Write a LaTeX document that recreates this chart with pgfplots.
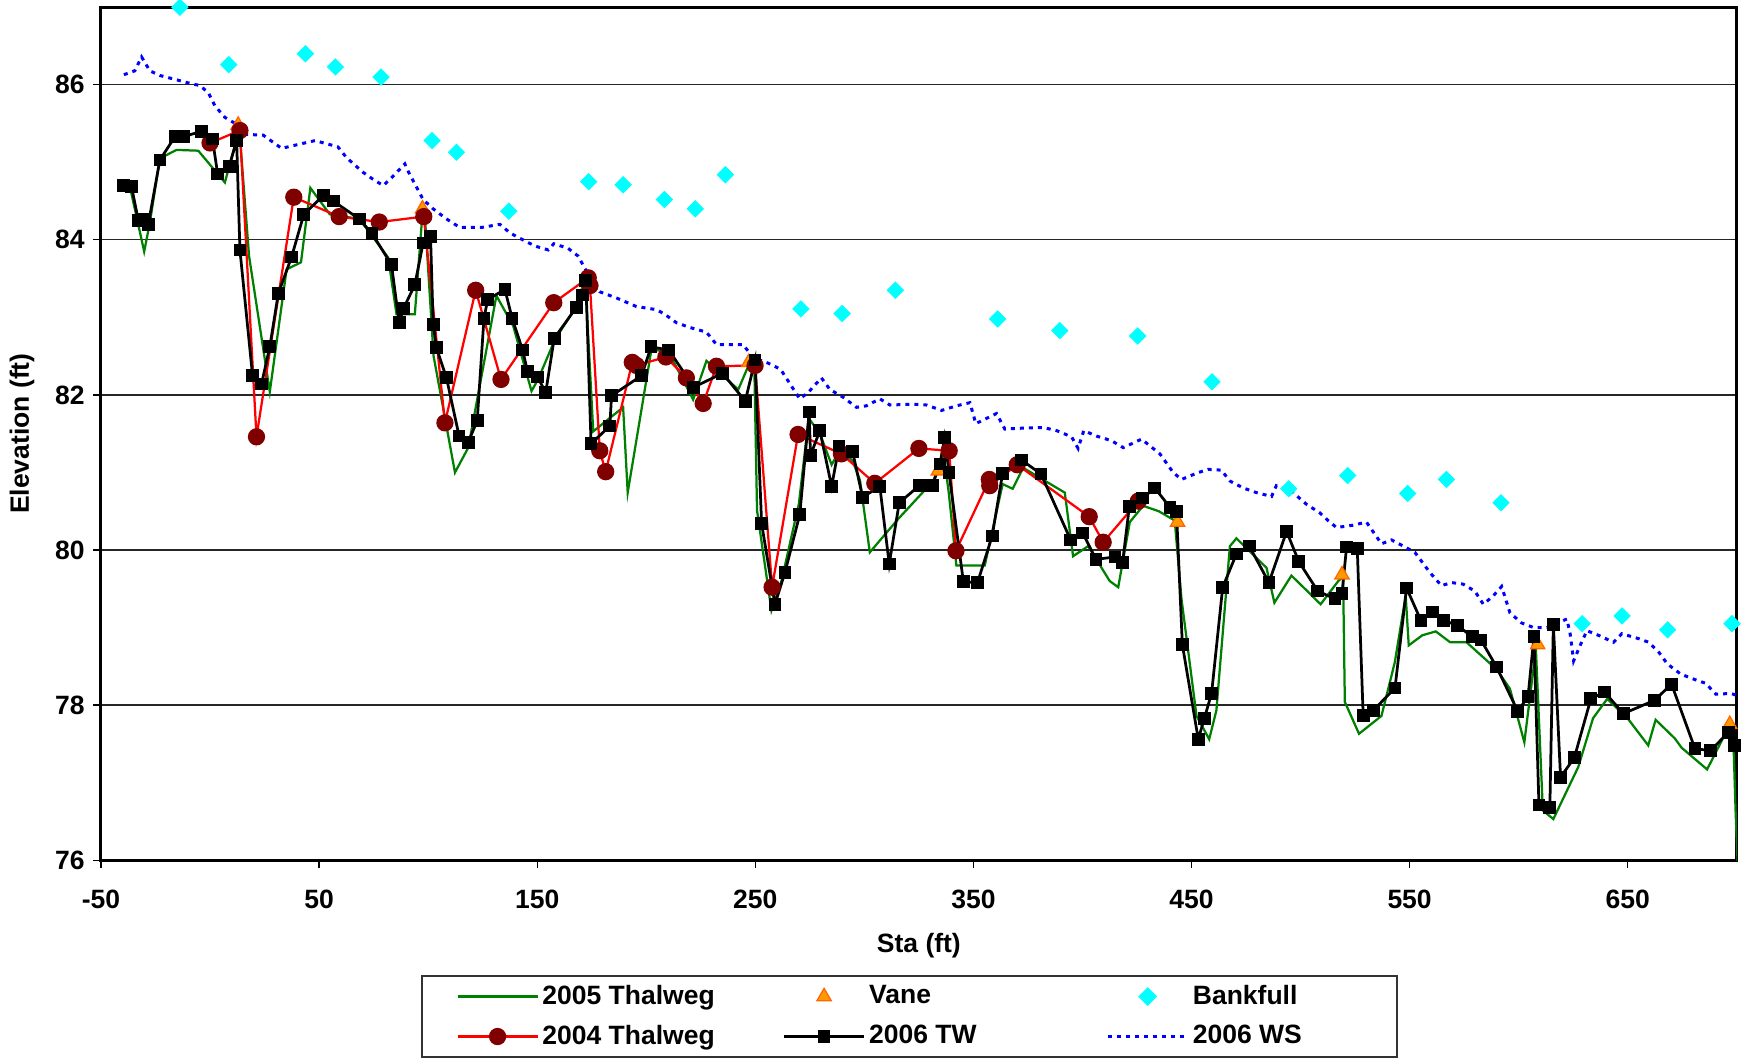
\documentclass[border=0pt]{standalone}
\usepackage{fontspec}
\setmainfont{Liberation Sans}
\usepackage{pgfplots}
\pgfplotsset{compat=1.18}
\definecolor{cGreen}{RGB}{0,128,0}
\definecolor{cRed}{RGB}{255,0,0}
\definecolor{cMaroon}{RGB}{128,0,0}
\definecolor{cOrange}{RGB}{255,153,0}
\definecolor{cOrangeD}{RGB}{255,102,0}
\definecolor{cCyan}{RGB}{0,255,255}
\definecolor{cBlue}{RGB}{0,0,255}
\newcommand{\ff}{\fontsize{10.6}{12.7}\selectfont\bfseries}
\pgfplotsset{my legend/.style={legend image code/.code={\draw[mark repeat=2,mark phase=2,##1] plot coordinates {(0pt,0pt) (16pt,0pt) (32pt,0pt)};}}}
\begin{document}
\begin{tikzpicture}
\begin{axis}[
  scale only axis, width=654.4pt, height=341.2pt,
  xmin=-50, xmax=700, ymin=76, ymax=87,
  xtick={-50,50,150,250,350,450,550,650},
  xticklabels={-50,50,150,250,350,450,550,650},
  ytick={76,78,80,82,84,86},
  yticklabels={76,78,80,82,84,86},
  ymajorgrids, major grid style={black!85, line width=0.5pt},
  tick align=outside, major tick length=3pt, tick pos=left,
  tick style={black, line width=0.5pt},
  axis line style={line width=1.2pt},
  ticklabel style={font=\ff},
  xticklabel style={yshift=-5.3pt},
  xlabel={Sta (ft)}, ylabel={Elevation (ft)},
  every axis x label/.style={at={(axis description cs:0.5,-0.1008)},anchor=center,font=\ff},
  every axis y label/.style={at={(axis description cs:-0.0483,0.5)},rotate=90,anchor=center,font=\ff},
  legend columns=3,
  legend cell align=left,
  legend style={at={(axis description cs:0.1956,-0.1342)}, anchor=north west, font=\ff,
    draw=black!80, line width=0.8pt, inner xsep=13.8pt, inner ysep=1.8pt,
    nodes={inner xsep=1.5pt, inner ysep=2pt}, row sep=2.8pt,
    /tikz/column 2/.style={column sep=25.7pt},
    /tikz/column 4/.style={column sep=50.3pt}},
  my legend,
]
% 2005 Thalweg
\addplot[cGreen, line width=0.9pt, mark=none] coordinates {
(-37,84.72) (-30.2,83.85) (-27.6,84.22) (-23.0,85.05) (-15.4,85.16) (-5.4,85.15) (6.8,84.74) (12.2,85.30) (13.5,85.40)
(17.9,83.79) (27.4,82.04) (35.1,83.62) (41.7,83.71) (46.0,84.67) (54.9,84.33) (68.4,84.27) (74.3,84.05) (81.7,83.77)
(85.5,83.04) (93.9,83.04) (97.2,84.27) (98.5,84.30) (102.5,82.5) (112.3,81.0) (118.4,81.32) (131.3,83.28) (139.0,82.89)
(147.4,82.05) (150.4,82.2) (157.9,82.7) (168,83.15) (172,83.5) (175.7,81.53) (189.4,81.84) (191.5,80.74) (202.4,82.59)
(210.3,82.55) (221.5,81.94) (227.6,82.44) (235,82.25) (242.2,82.07) (247.5,82.42) (249.5,82.45) (250.8,80.51)
(257.4,79.22) (262,79.6) (270,80.6) (274.5,81.7) (279.6,81.5) (285,81.1) (289,81.3) (294.6,81.15) (298,80.9)
(302.5,79.97) (315.5,80.4) (331.6,80.89) (334.7,81.11) (336.5,81.2) (338.7,80.74) (342.2,79.80) (355.2,79.80)
(363.4,80.85) (368.0,80.79) (372.8,81.06) (391.9,80.74) (395.7,79.92) (402.6,80.05) (412.5,79.60) (416.4,79.52)
(421.7,80.36) (427.8,80.57) (435,80.5) (442.3,80.38) (445.4,79.37) (452.3,77.86) (458.1,77.56) (461.4,77.93)
(467.6,80.05) (470.6,80.15) (484.4,79.77) (488.0,79.32) (495.8,79.67) (502,79.5) (509.2,79.30) (517.3,79.60)
(519.5,79.65) (520.3,78.04) (526.8,77.63) (537.1,77.86) (543.2,78.55) (548.2,79.41) (549.6,78.77) (555.8,78.90)
(562.0,78.95) (568.6,78.81) (576.1,78.81) (589.9,78.46) (596.0,78.21) (602.6,77.52) (607.9,78.72) (611.1,76.64)
(615.9,76.53) (627.3,77.20) (634.1,77.83) (640.6,78.08) (650.2,77.82) (659.4,77.48) (662.8,77.81) (671.6,77.57)
(674.7,77.45) (686.4,77.17) (693.8,77.58) (697.4,77.73) (698.5,77.5) (699.5,76.6) (700.5,75.9)};
\addlegendentry{2005 Thalweg}
% Vane
\addplot[only marks, mark=triangle*, mark size=3.3pt, mark options={fill=cOrange, draw=cOrangeD, line width=0.5pt}] coordinates {
(12.9,85.48) (97.4,84.40) (247,82.42) (333.9,81.02) (443.6,80.36) (519.0,79.68) (608.7,78.78) (696.8,77.75)};
\addlegendentry{Vane}
% Bankfull
\addplot[only marks, mark=square*, mark size=2.26pt, mark options={rotate=45, fill=cCyan, draw=cCyan}] coordinates {
(-13.8,87.0) (8.6,86.26) (43.7,86.40) (57.5,86.23) (78.4,86.10) (101.8,85.28) (113.0,85.13) (137.0,84.37) (173.6,84.75)
(189.4,84.71) (208.3,84.52) (222.5,84.40) (236.3,84.84) (270.9,83.11) (289.8,83.05) (314.2,83.35) (361.1,82.98)
(389.6,82.83) (425.3,82.76) (459.4,82.17) (494.6,80.79) (521.6,80.96) (549.1,80.73) (566.9,80.91) (591.9,80.61)
(629.1,79.05) (647.4,79.15) (668.3,78.97) (697.8,79.05)};
\addlegendentry{Bankfull}
% 2004 Thalweg
\addplot[cRed, line width=0.9pt, mark=*, mark size=3pt, mark options={fill=cMaroon, draw=cMaroon, solid}] coordinates {
(0,85.25) (13.7,85.41) (21.3,81.46) (38.4,84.55) (59.2,84.30) (77.6,84.23) (98.0,84.30) (107.7,81.64) (121.8,83.35)
(133.4,82.20) (157.6,83.19) (173.4,83.51) (174.2,83.41) (178.7,81.28) (181.4,81.01) (193.6,82.42) (195.5,82.38)
(209.0,82.49) (218.4,82.22) (226.1,81.89) (232.2,82.37) (249.9,82.38) (257.7,79.52) (269.6,81.49) (289.5,81.24)
(304.8,80.86) (325.0,81.31) (338.9,81.28) (342.0,79.99) (357.3,80.91) (357.5,80.83) (370.1,81.10) (403.1,80.43)
(409.5,80.10) (425.6,80.63)};
\addlegendentry{2004 Thalweg}
% 2006 TW
\addplot[black, line width=1.1pt, mark=square*, mark size=2pt, mark options={fill=black, solid}] coordinates {
(-39.8,84.70) (-36.0,84.69) (-32.9,84.25) (-29.9,84.27) (-28.3,84.20) (-23.0,85.03) (-16.1,85.33) (-12.3,85.33)
(-3.9,85.40) (1.1,85.30) (3.5,84.85) (8.8,84.95) (12.2,85.28) (13.7,83.87) (19.5,82.25) (23.6,82.14) (27.4,82.62)
(31.3,83.31) (37.4,83.78) (43.0,84.33) (51.9,84.57) (56.5,84.50) (68.4,84.27) (74.3,84.08) (83.2,83.68) (86.7,82.93)
(88.6,83.11) (93.9,83.42) (97.7,83.96) (101.1,84.04) (102.3,82.91) (103.8,82.61) (108.4,82.22) (114.2,81.47)
(118.4,81.39) (122.5,81.67) (125.6,82.99) (127.3,83.23) (135.2,83.36) (138.5,82.99) (143.3,82.58) (145.6,82.30)
(150.2,82.23) (153.9,82.03) (157.8,82.73) (168.0,83.13) (170.6,83.29) (172.3,83.48) (174.7,81.37) (183.3,81.60)
(184.1,81.99) (197.9,82.25) (202.2,82.62) (210.3,82.58) (221.8,82.10) (235.0,82.28) (245.4,81.92) (249.9,82.45)
(252.9,80.34) (259.0,79.30) (263.6,79.71) (270.4,80.46) (274.7,81.78) (275.3,81.22) (279.6,81.54) (285.0,80.82)
(288.4,81.34) (294.6,81.27) (299.2,80.68) (307.1,80.82) (311.4,79.82) (316.0,80.61) (325.2,80.83) (331.1,80.83)
(334.7,81.11) (336.8,81.45) (338.8,81.00) (345.4,79.59) (351.9,79.58) (358.6,80.18) (363.4,80.99) (372.1,81.16)
(381.0,80.98) (394.6,80.13) (400.1,80.22) (406.2,79.88) (414.9,79.91) (418.4,79.84) (421.5,80.56) (427.6,80.67)
(433.2,80.80) (440.1,80.55) (443.1,80.50) (445.8,78.78) (453.1,77.56) (455.9,77.83) (459.2,78.15) (464.3,79.52)
(470.6,79.95) (476.5,80.05) (485.5,79.58) (493.6,80.24) (499.2,79.85) (507.9,79.47) (515.8,79.37) (519.0,79.44)
(521.1,80.04) (526.0,80.02) (528.7,77.87) (533.3,77.93) (543.3,78.22) (548.6,79.51) (555.2,79.09) (560.4,79.20)
(565.7,79.09) (571.8,79.03) (578.7,78.88) (582.7,78.84) (589.9,78.49) (599.6,77.92) (604.3,78.11) (607.0,78.88)
(609.3,76.71) (614.3,76.68) (615.9,79.04) (619.2,77.07) (625.5,77.32) (633.1,78.08) (639.3,78.17) (648.0,77.89)
(662.2,78.06) (670.1,78.27) (680.8,77.44) (688.0,77.41) (696.1,77.65) (698.8,77.48) (700.5,77.3)};
\addlegendentry{2006 TW}
% 2006 WS
\addplot[cBlue, line width=1.2pt, dash pattern=on 1.6pt off 2pt, mark=none] coordinates {
(-39.5,86.13) (-34.5,86.18) (-31.4,86.36) (-27.6,86.18) (-23.0,86.12) (-16.1,86.07) (-10.8,86.03) (-4.7,85.99)
(-0.8,85.90) (2.2,85.73) (6.8,85.58) (12.2,85.49) (16.7,85.36) (24.4,85.35) (32.8,85.18) (40.4,85.23) (48.1,85.28)
(53.4,85.24) (58.6,85.20) (62.6,85.06) (70.2,84.87) (74.8,84.78) (79.4,84.70) (83.2,84.80) (89.3,84.98) (91.1,84.87)
(97.7,84.52) (102.3,84.40) (108.4,84.27) (114.5,84.16) (124.5,84.16) (132.9,84.20) (137.5,84.09) (142.1,84.02)
(149.0,83.92) (155.1,83.87) (157.6,83.95) (164.2,83.89) (168.8,83.79) (171.9,83.63) (178.7,83.33) (186.4,83.25)
(195.5,83.14) (204.7,83.10) (208.5,83.04) (213.9,82.93) (220.0,82.87) (227.6,82.81) (232.2,82.65) (239.9,82.65)
(244.4,82.65) (249.0,82.48) (255.9,82.41) (261.6,82.33) (266.9,82.10) (270.4,81.95) (274.2,82.03) (280.3,82.22)
(284.2,82.07) (290.3,81.97) (296.4,81.84) (301.0,81.86) (307.1,81.95) (311.7,81.87) (322.4,81.88) (328.5,81.87)
(335.4,81.80) (342.3,81.86) (348.4,81.90) (351.1,81.63) (360.6,81.76) (364.4,81.56) (371.3,81.57) (382.0,81.58)
(388.1,81.54) (395.0,81.46) (398.0,81.31) (400.6,81.54) (406.4,81.47) (413.3,81.41) (418.7,81.32) (427.1,81.43)
(435.5,81.24) (441.6,81.00) (445.4,80.91) (452.3,80.99) (457.6,81.04) (463.7,81.03) (467.6,80.89) (473.7,80.80)
(479.8,80.74) (486.7,80.69) (488.9,80.83) (496.6,80.74) (502.7,80.59) (508.8,80.48) (513.4,80.36) (516.5,80.29)
(524.1,80.32) (530.2,80.36) (537.1,80.08) (541.7,80.13) (547.1,80.05) (552.4,79.97) (559.3,79.71) (564.6,79.54)
(569.2,79.58) (574.5,79.56) (579.9,79.47) (583.8,79.30) (588.4,79.41) (592.2,79.53) (596.0,79.19) (601.3,79.06)
(606.8,79.00) (612.9,79.00) (622.1,79.11) (623.6,78.92) (625.2,78.57) (628.2,78.77) (631.3,78.96) (637.4,78.89)
(643.5,78.81) (647.3,78.92) (654.6,78.86) (659.7,78.81) (664.3,78.68) (668.2,78.53) (674.3,78.40) (679.7,78.34)
(685.8,78.28) (690.4,78.14) (697.3,78.15) (700.5,78.12)};
\addlegendentry{2006 WS\hspace*{22.7pt}}
\coordinate (bl) at (rel axis cs:0,0);
\coordinate (tr) at (rel axis cs:1,1);
\end{axis}
\pgfresetboundingbox
\path[use as bounding box] ([shift={(-40.4pt,-79.8pt)}]bl) rectangle ([shift={(2.1pt,2.9pt)}]tr);
\end{tikzpicture}
\end{document}
